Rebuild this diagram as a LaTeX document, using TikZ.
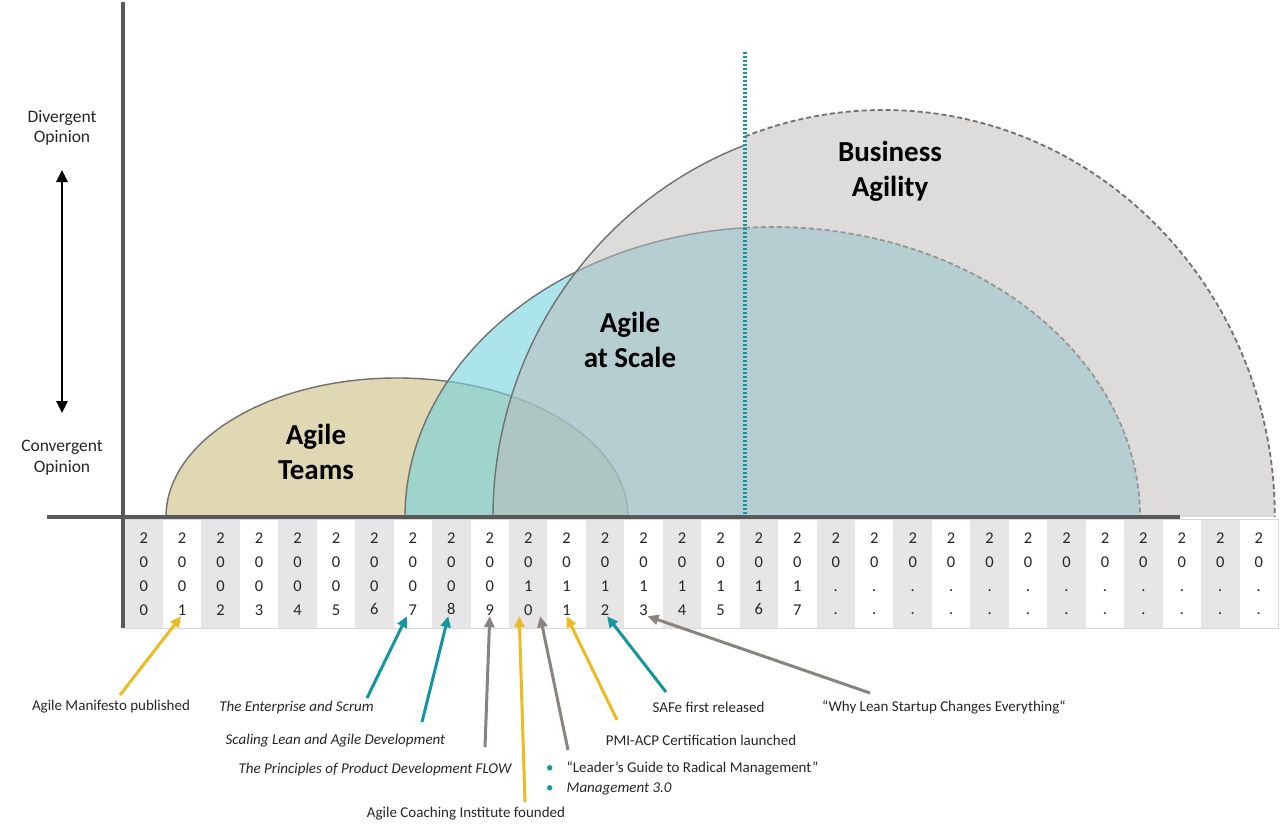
\documentclass[tikz,border=0pt]{standalone}
\usepackage{fontspec}
\setmainfont{Carlito}
\usetikzlibrary{calc,arrows.meta}
\tikzset{>={Triangle[length=11pt,width=10pt]}}
\definecolor{axisgray}{RGB}{89,89,89}
\definecolor{outlinegray}{RGB}{112,112,112}
\definecolor{cellgray}{RGB}{230,230,230}
\definecolor{tableline}{RGB}{215,215,215}
\definecolor{teamtan}{RGB}{224,216,178}
\definecolor{scalecyan}{RGB}{117,210,222}
\definecolor{bizgray}{RGB}{190,186,184}
\definecolor{evyellow}{RGB}{236,186,34}
\definecolor{evteal}{RGB}{20,150,158}
\definecolor{evgray}{RGB}{138,130,126}
\definecolor{textblack}{RGB}{38,38,38}
\tikzset{
  yearcell/.style={minimum width=38.45pt, minimum height=108pt, inner sep=0pt,
    align=center, text=textblack, font=\fontsize{16.5}{23.8}\selectfont},
  event/.style={inner sep=0pt, text=textblack, font=\fontsize{15}{20}\selectfont},
  axislabel/.style={inner sep=0pt, align=center, text=textblack, font=\fontsize{17.5}{20.5}\selectfont},
  arealabel/.style={inner sep=0pt, align=center, text=black, font=\fontsize{29}{35}\selectfont\bfseries},
  outline/.style={draw=outlinegray, line width=1.4pt},
  future/.style={draw=outlinegray, line width=1.8pt, dash pattern=on 5pt off 3pt},
  pointer/.style={->, line width=3pt},
}

\begin{document}
\begin{tikzpicture}[x=1pt,y=1pt]
  \useasboundingbox (0,0) rectangle (1280,-832);

  % year table
  \foreach \a/\b [count=\i from 0] in {0/0,0/1,0/2,0/3,0/4,0/5,0/6,0/7,0/8,0/9,
      1/0,1/1,1/2,1/3,1/4,1/5,1/6,1/7,./.,./.,./.,./.,./.,./.,./.,./.,./.,./.,./.,./.}{
    \ifodd\i \def\cellshade{white}\else \def\cellshade{cellgray}\fi
    \node[yearcell, fill=\cellshade] (c\i) at ({143.7+38.45*\i},-574) {2\\0\\\a\\\b};
  }
  \draw[tableline, line width=1pt] (c0.north west) rectangle (c29.south east);

  % the three areas
  \filldraw[fill=teamtan, outline] (166,-517)
    arc[start angle=180, end angle=0, x radius=231, y radius=139] -- cycle;

  \fill[scalecyan, fill opacity=.6] (405,-517)
    arc[start angle=180, end angle=0, x radius=367.5, y radius=290] -- cycle;
  \draw[outline] (405,-517)
    arc[start angle=180, end angle=94.3, x radius=367.5, y radius=290] coordinate (scnow);
  \draw[future] (scnow)
    arc[start angle=94.3, end angle=0, x radius=367.5, y radius=290];

  \fill[bizgray, fill opacity=.5] (493,-517)
    arc[start angle=180, end angle=110.8, x radius=391, y radius=398] -- (745,-136.5)
    arc[start angle=110.8, end angle=0, x radius=391, y radius=407] -- cycle;
  \draw[outline] (493,-517)
    arc[start angle=180, end angle=110.8, x radius=391, y radius=398];
  \draw[future] (745,-136.5)
    arc[start angle=110.8, end angle=0, x radius=391, y radius=407];

  \draw[evteal, line width=3.5pt, dash pattern=on 2.4pt off 1.6pt] (745,-52) -- (745,-517);

  % axes
  \draw[axisgray, line width=4pt] (47,-517) -- (1180,-517);
  \draw[axisgray, line width=3.5pt] (123,-2) -- (123,-628);

  \node[axislabel] (div) at (62,-128) {Divergent\\Opinion};
  \node[axislabel] (conv) at (62,-457.5) {Convergent\\Opinion};
  \draw[<->, line width=2.5pt, >={Triangle[length=12pt,width=11pt]}]
    ([yshift=-42]div.center) -- ([yshift=44.5]conv.center);

  \node[arealabel] (teams) at (316,-451.5) {Agile\\Teams};
  \node[arealabel] (scale) at (630,-340) {Agile\\at Scale};
  \node[arealabel] (biz) at (890,-171.5) {Business\\Agility};

  % events
  \node[event] (am) at (111,-707) {Agile Manifesto published};
  \node[event] (es) at (296.5,-707) {\itshape The Enterprise and Scrum};
  \node[event] (sl) at (335.5,-741) {\itshape Scaling Lean and Agile Development};
  \node[event] (pf) at (375,-769) {\itshape The Principles of Product Development FLOW};
  \node[event] (aci) at (466,-814) {Agile Coaching Institute founded};
  \node[event, anchor=west, align=left] (lg) at (546,-778)
    {\textcolor{evteal}{\textbullet}\hspace{13pt}“Leader’s Guide to Radical Management”\\
     \textcolor{evteal}{\textbullet}\hspace{13pt}\textit{Management 3.0}};
  \node[event] (pmi) at (701,-740) {PMI-ACP Certification launched};
  \node[event] (safe) at (708.5,-707) {SAFe first released};
  \node[event] (wl) at (944,-707) {“Why Lean Startup Changes Everything“};

  \draw[pointer, evyellow] ([shift={(9,12)}]am.center) -- ([shift={(-1,12)}]c1.south);
  \draw[pointer, evteal] ([shift={(70.5,9)}]es.center) -- ([shift={(-6,12)}]c7.south);
  \draw[pointer, evteal] ([shift={(86.5,19)}]sl.center) -- ([shift={(-3,12)}]c8.south);
  \draw[pointer, evgray] ([shift={(110,22)}]pf.center) -- ([yshift=12]c9.south);
  \draw[pointer, evyellow] ([shift={(59,12)}]aci.center) -- ([shift={(-9,12)}]c10.south);
  \draw[pointer, evgray] ([shift={(22,28)}]lg.west) -- ([shift={(12,12)}]c10.south);
  \draw[pointer, evyellow] ([shift={(-84,20)}]pmi.center) -- ([yshift=12]c11.south);
  \draw[pointer, evteal] ([shift={(-42.5,15)}]safe.center) -- ([shift={(2,12)}]c12.south);
  \draw[pointer, evgray] ([shift={(-74,14)}]wl.center) -- ([shift={(4,12)}]c13.south);
\end{tikzpicture}
\end{document}
